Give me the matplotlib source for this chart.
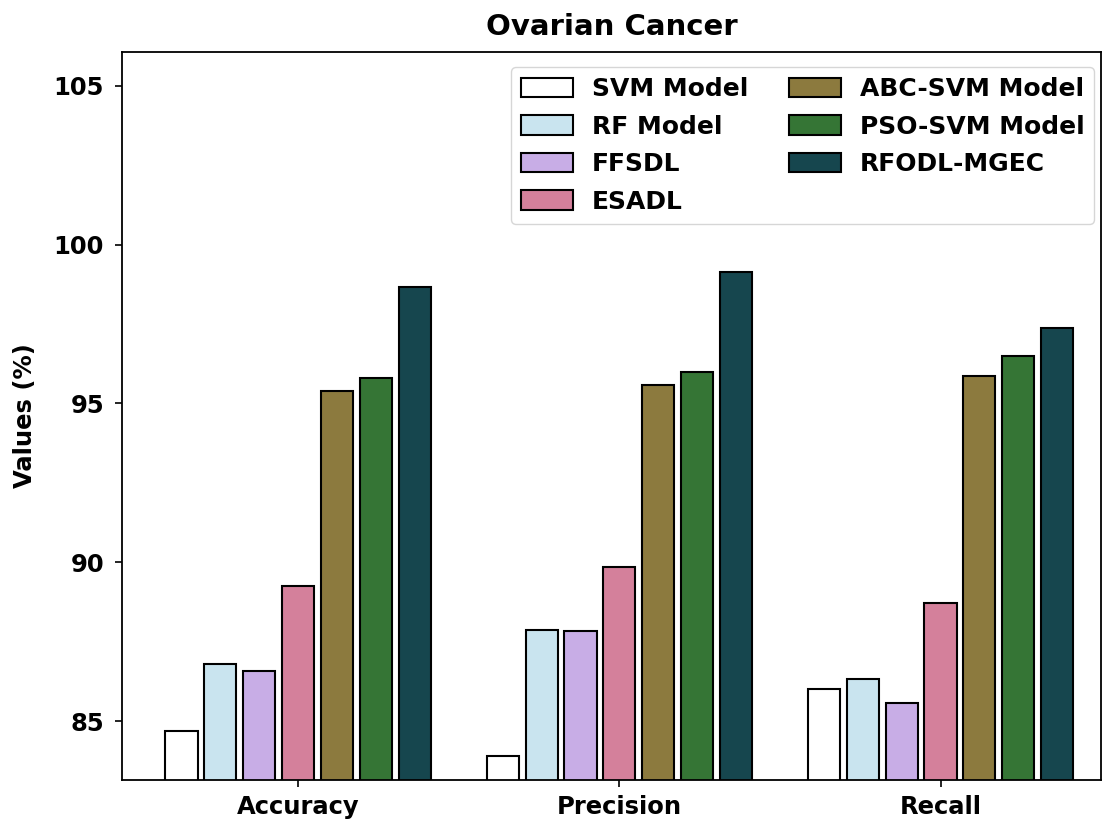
import matplotlib
matplotlib.use("Agg")
import matplotlib.pyplot as plt
import numpy as np

categories = ["Accuracy", "Precision", "Recall"]
models = ["SVM Model", "RF Model", "FFSDL", "ESADL", "ABC-SVM Model", "PSO-SVM Model", "RFODL-MGEC"]
svm = [84.69, 83.90, 86.00]
rf = [86.79, 87.86, 86.32]
ffsdl = [86.57, 87.83, 85.57]
esadl = [89.24, 89.84, 88.71]
abc_svm = [95.38, 95.57, 95.85]
pso_svm = [95.79, 96.00, 96.48]
rfodl_mgec = [98.68, 99.15, 97.39]
series = [svm, rf, ffsdl, esadl, abc_svm, pso_svm, rfodl_mgec]
colors = ["#ffffff", "#c9e4ef", "#c8ade6", "#d4809b", "#8c7a3e", "#357535", "#16464e"]

fig = plt.figure(figsize=(11.1, 8.23), dpi=100)
ax = fig.add_axes([0.110, 0.052, 0.882, 0.885])
x = np.arange(len(categories))
step = 0.121
width = 0.1
for i, (vals, c, lab) in enumerate(zip(series, colors, models)):
    ax.bar(x + (i - 3) * step, vals, width, color=c, edgecolor="black", linewidth=1.5, label=lab)

ax.set_xlim(-0.548, 2.50)
ax.set_ylim(83.14, 106.07)
ax.set_yticks([85, 90, 95, 100, 105])
ax.set_xticks(x)
ax.set_xticklabels(categories, fontsize=17.5, fontweight="bold")
for t in ax.get_yticklabels():
    t.set_fontsize(17.5)
    t.set_fontweight("bold")
ax.tick_params(axis="both", length=5, width=1.2)
ax.tick_params(axis="y", pad=8)
ax.tick_params(axis="x", pad=6)
for s in ax.spines.values():
    s.set_linewidth(1.3)
ax.set_ylabel("Values (%)", fontsize=17.5, fontweight="bold", labelpad=12)
ax.set_title("Ovarian Cancer", fontsize=21, fontweight="bold", pad=12)
ax.legend(ncol=2, loc="upper right", prop={"size": 18, "weight": "bold"},
          bbox_to_anchor=(0.993, 0.979), borderaxespad=0.0,
          handlelength=2.08, handleheight=0.8,
          handletextpad=0.76, columnspacing=1.6, labelspacing=0.54, borderpad=0.4)
fig.savefig("out.png", dpi=100)
